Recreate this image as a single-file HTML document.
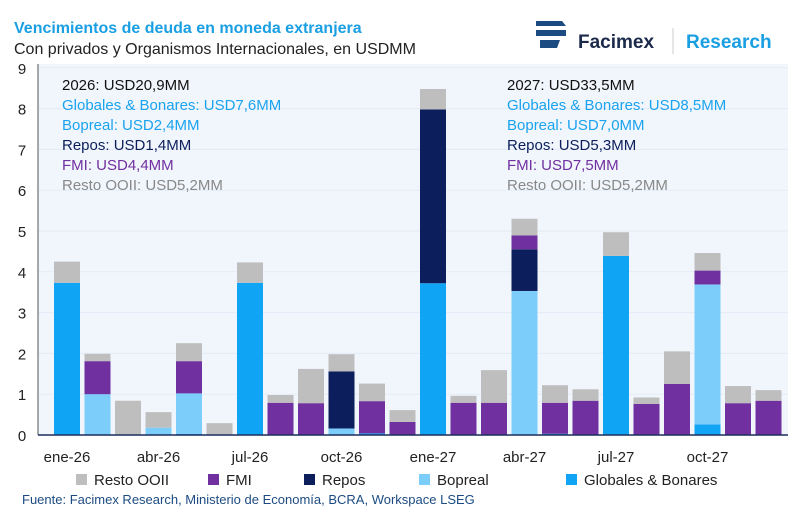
<!DOCTYPE html>
<html><head><meta charset="utf-8"><style>
body{margin:0;background:#fff;font-family:"Liberation Sans",sans-serif;}
#wrap{position:relative;width:800px;height:509px;overflow:hidden;}
svg text{font-family:"Liberation Sans",sans-serif;}
</style></head><body>
<div id="wrap">
<svg id="chart" width="800" height="509">
<rect x="38" y="64" width="750" height="372" fill="#f1f6fc"/>
<text x="14" y="33" font-size="16" font-weight="bold" fill="#1a9fe3">Vencimientos de deuda en moneda extranjera</text>
<text x="14" y="54" font-size="16" fill="#222">Con privados y Organismos Internacionales, en USDMM</text>
<g>
<path d="M536 21 h26 l4 5 h-30z M536 30 h30 v6 h-30z M540 40 h20 l-3 8 h-17z" fill="#1c4b82"/>
<text x="578" y="48" font-size="19" font-weight="bold" fill="#1b2a4a">Facimex</text>
<line x1="673" y1="28" x2="673" y2="54" stroke="#ccc"/>
<text x="686" y="48" font-size="19" font-weight="bold" fill="#1a9fe3">Research</text>
</g>
<g id="grid"></g><g id="bars"></g><g id="axes"></g>
<g font-size="15">
<text x="62" y="90" fill="#111">2026: USD20,9MM</text>
<text x="62" y="110" fill="#1aa3ee">Globales &amp; Bonares: USD7,6MM</text>
<text x="62" y="130" fill="#1aa3ee">Bopreal: USD2,4MM</text>
<text x="62" y="150" fill="#0c1f5c">Repos: USD1,4MM</text>
<text x="62" y="170" fill="#7030a0">FMI: USD4,4MM</text>
<text x="62" y="190" fill="#888">Resto OOII: USD5,2MM</text>
</g>
<g font-size="15">
<text x="507" y="90" fill="#111">2027: USD33,5MM</text>
<text x="507" y="110" fill="#1aa3ee">Globales &amp; Bonares: USD8,5MM</text>
<text x="507" y="130" fill="#1aa3ee">Bopreal: USD7,0MM</text>
<text x="507" y="150" fill="#0c1f5c">Repos: USD5,3MM</text>
<text x="507" y="170" fill="#7030a0">FMI: USD7,5MM</text>
<text x="507" y="190" fill="#888">Resto OOII: USD5,2MM</text>
</g>
<g id="legend" font-size="15" fill="#222"></g>
<text x="22" y="504" font-size="13" fill="#1c4b82">Fuente: Facimex Research, Ministerio de Economía, BCRA, Workspace LSEG</text>
</svg>
</div>
<script>
const categories=["ene-26","feb-26","mar-26","abr-26","may-26","jun-26","jul-26","ago-26","sep-26","oct-26","nov-26","dic-26","ene-27","feb-27","mar-27","abr-27","may-27","jun-27","jul-27","ago-27","sep-27","oct-27","nov-27","dic-27"];
const globales=[3.73,0,0,0,0.03,0,3.73,0,0,0,0.04,0,3.72,0,0,0,0.03,0,4.39,0,0,0.26,0,0];
const bopreal=[0,1.0,0,0.18,0.99,0,0,0,0,0.16,0,0,0,0,0,3.53,0,0,0,0,0,3.43,0,0];
const repos=[0,0,0,0,0,0,0,0,0,1.4,0,0,4.26,0,0,1.02,0,0,0,0,0,0,0,0];
const fmi=[0,0.81,0,0,0.79,0,0,0.79,0.78,0,0.79,0.32,0,0.79,0.79,0.34,0.76,0.84,0,0.76,1.25,0.34,0.78,0.84];
const resto=[0.52,0.18,0.84,0.38,0.44,0.29,0.5,0.19,0.84,0.42,0.43,0.29,0.5,0.17,0.8,0.41,0.43,0.28,0.58,0.16,0.8,0.43,0.42,0.26];
const yTicks=[0,1,2,3,4,5,6,7,8,9];
const xLabels=["ene-26","abr-26","jul-26","oct-26","ene-27","abr-27","jul-27","oct-27"];
const seriesNames=["Resto OOII","FMI","Repos","Bopreal","Globales & Bonares"];

const NS="http://www.w3.org/2000/svg";
const y0=435,pxU=40.8,x0=67,step=30.5,bw=26;
const y=v=>y0-v*pxU, x=i=>x0+i*step;
function mk(t,a,p){const e=document.createElementNS(NS,t);for(const k in a)e.setAttribute(k,a[k]);p.appendChild(e);return e;}
const grid=document.getElementById('grid'),axes=document.getElementById('axes'),bars=document.getElementById('bars');
yTicks.forEach(t=>{
  const l=mk('line',{x1:38,x2:788,y1:y(t),y2:y(t),stroke:'#e3ebf5'},grid);
  
  
  const tx=mk('text',{x:22,y:y(t)+6,'font-size':15,'text-anchor':'middle',fill:'#222'},axes);
  tx.textContent=t;
  
  
});
mk('line',{x1:38,x2:38,y1:64,y2:y0,stroke:'#555'},axes);
mk('line',{x1:38,x2:788,y1:y0,y2:y0,stroke:'#1c2f5c','stroke-width':1.5},axes);
const series=[[globales,'#10a4f4','globales'],[bopreal,'#7dcdfb','bopreal'],[repos,'#0c1f5c','repos'],[fmi,'#7030a0','fmi'],[resto,'#bebebe','resto']];
categories.forEach((c,i)=>{
  let acc=0;
  series.forEach(([arr,col,nm])=>{
    const v=arr[i]; if(v<=0)return;
    const r=mk('rect',{x:x(i)-bw/2,y:y(acc+v),width:bw,height:v*pxU,fill:col},bars);
    
    
    acc+=v;
  });
});
xLabels.forEach(lb=>{
  const i=categories.indexOf(lb);
  const t=mk('text',{x:x(i),y:462,'font-size':15,'text-anchor':'middle',fill:'#222'},axes);
  t.textContent=lb;
  
  
});
const lg=document.getElementById('legend');
const lcols=['#bebebe','#7030a0','#0c1f5c','#7dcdfb','#10a4f4'];
const lx=[76,208,304,419,566];
seriesNames.forEach((n,i)=>{
  const g=mk('g',{},lg);
  
  
  mk('rect',{x:lx[i],y:474,width:11,height:11,fill:lcols[i]},g);
  const t=mk('text',{x:lx[i]+18,y:485},g); t.textContent=n;
});
</script>
</body></html>
